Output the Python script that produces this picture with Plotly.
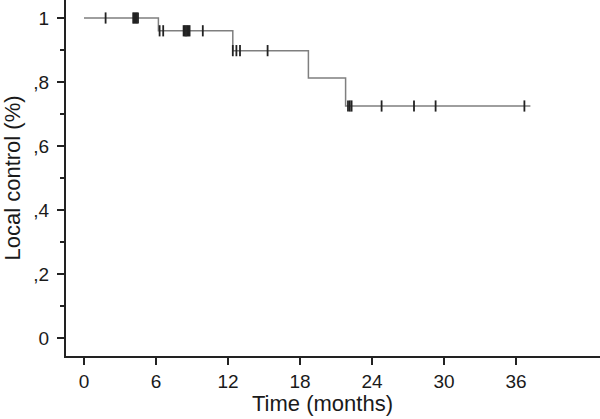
import plotly.graph_objects as go

# Kaplan-Meier step curve (time in months, local control fraction)
step_times = [0, 6.2, 12.4, 18.7, 21.8, 37.2]
step_values = [1.0, 0.96, 0.898, 0.8125, 0.725, 0.725]

# censored observations
censor_times = [1.8, 4.1, 4.2, 4.3, 4.4, 4.5,
                6.3, 6.6, 8.3, 8.4, 8.5, 8.6, 8.7, 8.8, 9.9,
                12.4, 12.7, 13.0, 15.3,
                22.0, 22.15, 22.3, 24.8, 27.5, 29.3, 36.7]
censor_values = [1.0] * 6 + [0.96] * 9 + [0.898] * 4 + [0.725] * 7

x_ticks = [0, 6, 12, 18, 24, 30, 36]
y_ticks = [0, 0.2, 0.4, 0.6, 0.8, 1.0]
y_tick_labels = ["0", ",2", ",4", ",6", ",8", "1"]

font_family = "Liberation Sans, Arial, sans-serif"

# plot area in pixels
left, bottom = 66, 63
plot_w = 600 - left
plot_h = 419 - bottom

fig = go.Figure()

fig.add_trace(go.Scatter(
	x=step_times, y=step_values,
	mode="lines",
	line=dict(color="#7f7f7f", width=1.5, shape="hv"),
	showlegend=False
))

fig.add_trace(go.Scatter(
	x=censor_times, y=censor_values,
	mode="markers",
	marker=dict(symbol="line-ns", size=8, line=dict(color="#222222", width=1.8)),
	showlegend=False
))

fig.update_layout(
	width=600, height=419,
	margin=dict(l=left, r=0, t=0, b=bottom, pad=0),
	paper_bgcolor="white",
	plot_bgcolor="white",
	font=dict(family=font_family, size=19, color="#1a1a1a"),
	annotations=[dict(
		text="Time (months)",
		x=(322 - left) / plot_w, y=(plot_h - 404) / plot_h,
		xref="paper", yref="paper", yanchor="middle",
		showarrow=False, font=dict(size=22, color="#1a1a1a")
	)]
)

fig.update_xaxes(
	range=[-1.5, 43],
	tickvals=x_ticks,
	ticks="outside", ticklen=7, tickwidth=1.5, tickcolor="#222222",
	showline=True, linecolor="#222222", linewidth=2,
	showgrid=False, zeroline=False,
	tickfont=dict(size=19),
	automargin=False
)

fig.update_yaxes(
	range=[-0.05625, 1.05625],
	tickvals=y_ticks, ticktext=y_tick_labels,
	ticks="outside", ticklen=7, tickwidth=1.5, tickcolor="#222222",
	minor=dict(dtick=0.1, tick0=0, ticklen=4, tickwidth=1.5, tickcolor="#222222", ticks="outside", showgrid=False),
	showline=True, linecolor="#222222", linewidth=2,
	showgrid=False, zeroline=False,
	tickfont=dict(size=19),
	ticklabelstandoff=4,
	title=dict(text="Local control (%)", font=dict(size=22), standoff=11),
	automargin=False
)

# drop the browser's default body margin so the figure sits at the page corner
fig.write_html(
	"out.html",
	config={"displayModeBar": False},
	post_script="document.body.style.margin='0';"
)
